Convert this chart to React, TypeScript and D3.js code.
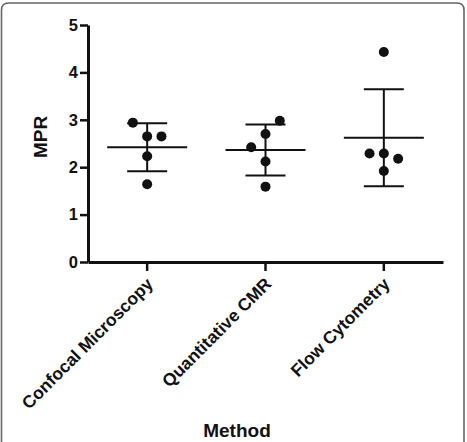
import React, { useEffect, useRef } from 'react';
import * as d3 from 'd3';

const methods = ['Confocal Microscopy', 'Quantitative CMR', 'Flow Cytometry'];

// MPR per sample, one array per method
const confocalMpr = [2.94, 2.65, 2.65, 2.23, 1.64];
const cmrMpr = [2.98, 2.70, 2.42, 2.12, 1.59];
const flowMpr = [4.43, 2.29, 2.29, 2.18, 1.92];

// column scatter slot for each sample (-1 left, 0 centre, 1 right)
const confocalSlots = [-1, 0, 1, 0, 0];
const cmrSlots = [1, 0, -1, 0, 0];
const flowSlots = [0, -1, 0, 1, 0];

const yTicks = [0, 1, 2, 3, 4, 5];

const App = () => {
  const svgRef = useRef<SVGSVGElement>(null);

  useEffect(() => {
    const width = 467;
    const height = 442;
    const font = '"Liberation Sans", Arial, Helvetica, sans-serif';
    const ink = '#111';

    const groups = [
      { name: methods[0], values: confocalMpr, slots: confocalSlots },
      { name: methods[1], values: cmrMpr, slots: cmrSlots },
      { name: methods[2], values: flowMpr, slots: flowSlots },
    ];

    const svg = d3.select(svgRef.current);
    svg.selectAll('*').remove();
    svg.attr('width', width).attr('height', height).style('background', '#fff');

    // rounded frame, open at the bottom
    const r = 7;
    svg.append('path')
      .attr('d', `M1.5,${height + 5} L1.5,${3 + r} Q1.5,3 ${1.5 + r},3 L${464 - r},3 Q464,3 464,${3 + r} L464,${height + 5}`)
      .attr('fill', 'none')
      .attr('stroke', '#666')
      .attr('stroke-width', 1.6);

    const x = d3.scaleBand<string>().domain(methods).range([88, 443]);
    const y = d3.scaleLinear().domain([0, 5]).range([262, 25]);
    const cx = (name: string) => (x(name) ?? 0) + x.bandwidth() / 2;
    const slotStep = 14.3;

    // y axis
    const yAxis = svg.append('g').attr('transform', 'translate(88,0)');
    yAxis.call(d3.axisLeft(y).tickValues(yTicks).tickSize(8).tickSizeOuter(0).tickFormat(d3.format('d')));
    yAxis.attr('font-size', null).attr('font-family', null);
    yAxis.select('.domain').attr('stroke', ink).attr('stroke-width', 3);
    yAxis.selectAll('.tick line').attr('stroke', ink).attr('stroke-width', 2.5);
    yAxis.selectAll('.tick text')
      .attr('x', -10)
      .attr('fill', ink)
      .style('font-family', font)
      .style('font-weight', 'bold')
      .style('font-size', '16.5px');

    // x axis
    const xAxis = svg.append('g').attr('transform', `translate(0,${y(0)})`);
    xAxis.call(d3.axisBottom(x).tickSize(9).tickSizeOuter(0));
    xAxis.attr('font-size', null).attr('font-family', null);
    xAxis.select('.domain').attr('stroke', ink).attr('stroke-width', 3);
    xAxis.selectAll('.tick line').attr('stroke', ink).attr('stroke-width', 2.5);
    xAxis.selectAll('.tick text')
      .attr('x', 0)
      .attr('y', 0)
      .attr('dy', 0)
      .attr('transform', 'translate(7,23) rotate(-45)')
      .attr('text-anchor', 'end')
      .attr('fill', ink)
      .style('font-family', font)
      .style('font-weight', 'bold')
      .style('font-size', '17.5px');

    // mean and SD bars
    groups.forEach(g => {
      const mean = d3.mean(g.values) ?? 0;
      const sd = d3.deviation(g.values) ?? 0;
      const c = cx(g.name);
      const bars = svg.append('g').attr('stroke', ink).attr('stroke-width', 2);
      bars.append('line').attr('x1', c).attr('x2', c).attr('y1', y(mean + sd)).attr('y2', y(mean - sd));
      bars.append('line').attr('x1', c - 40).attr('x2', c + 40).attr('y1', y(mean)).attr('y2', y(mean));
      bars.append('line').attr('x1', c - 20).attr('x2', c + 20).attr('y1', y(mean + sd)).attr('y2', y(mean + sd));
      bars.append('line').attr('x1', c - 20).attr('x2', c + 20).attr('y1', y(mean - sd)).attr('y2', y(mean - sd));
    });

    // individual samples
    groups.forEach(g => {
      const c = cx(g.name);
      svg.append('g')
        .selectAll('circle')
        .data(g.values)
        .join('circle')
        .attr('cx', (d, i) => c + g.slots[i] * slotStep)
        .attr('cy', d => y(d))
        .attr('r', 5)
        .attr('fill', ink);
    });

    svg.append('text')
      .attr('transform', 'translate(47,137) rotate(-90)')
      .attr('text-anchor', 'middle')
      .attr('fill', ink)
      .style('font-family', font)
      .style('font-weight', 'bold')
      .style('font-size', '19px')
      .text('MPR');

    svg.append('text')
      .attr('x', 237)
      .attr('y', 437)
      .attr('text-anchor', 'middle')
      .attr('fill', ink)
      .style('font-family', font)
      .style('font-weight', 'bold')
      .style('font-size', '19px')
      .text('Method');
  }, []);

  return (
    <div style={{ position: 'absolute', left: 0, top: 0 }}>
      <svg ref={svgRef} style={{ display: 'block' }}></svg>
    </div>
  );
};

export default App;
